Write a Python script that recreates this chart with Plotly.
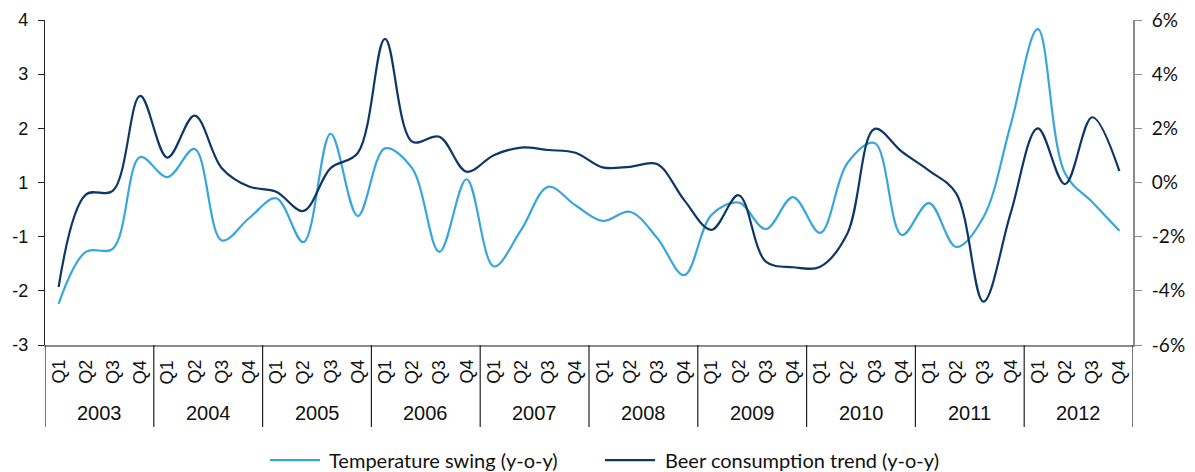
import plotly.graph_objects as go

years = ["2003", "2004", "2005", "2006", "2007", "2008", "2009", "2010", "2011", "2012"]
quarters = ["Q1", "Q2", "Q3", "Q4"]

# Temperature swing (left axis, real units; labels are rounded in the original)
temperature = [-1.74, -0.78, -0.72, 0.97, 0.60, 1.12, -0.57, -0.16, 0.21, -0.60,
               1.40, -0.12, 1.13, 0.76, -0.78, 0.56, -1.05, -0.38, 0.42, 0.08,
               -0.21, -0.04, -0.52, -1.21, -0.10, 0.13, -0.36, 0.23, -0.43, 0.86,
               1.23, -0.47, 0.12, -0.69, -0.14, 1.56, 3.33, 0.67, 0.14, -0.39]

# Beer consumption trend (right axis, %)
beer = [-3.86, -0.45, -0.30, 3.20, 0.92, 2.47, 0.53, -0.15, -0.34, -1.05,
        0.53, 1.09, 5.30, 1.51, 1.69, 0.40, 1.01, 1.29, 1.20, 1.10,
        0.56, 0.58, 0.68, -0.65, -1.75, -0.47, -2.92, -3.13, -3.11, -1.88,
        1.98, 1.14, 0.44, -0.40, -4.40, -1.14, 2.00, -0.06, 2.41, 0.42]

series_names = ["Temperature swing (y-o-y)", "Beer consumption trend (y-o-y)"]

left_tickvals = [-2.5, -1.5, -0.5, 0.5, 1.5, 2.5, 3.5]
left_ticktext = ["-3", "-2", "-1", "1", "2", "3", "4"]
right_tickvals = [-6, -4, -2, 0, 2, 4, 6]
right_ticktext = ["-6%", "-4%", "-2%", "0%", "2%", "4%", "6%"]

LIGHT = "#38A6DC"
DARK = "#0C3766"

n = len(years) * len(quarters)
xs = list(range(n))

fig = go.Figure()
fig.add_trace(go.Scatter(x=xs, y=temperature, mode="lines", name=series_names[0],
                         line=dict(color=LIGHT, width=2.2, shape="spline", smoothing=1.0)))
fig.add_trace(go.Scatter(x=xs, y=beer, mode="lines", name=series_names[1],
                         yaxis="y2",
                         line=dict(color=DARK, width=2.2, shape="spline", smoothing=1.0)))

annotations = []
for i in range(n):
    annotations.append(dict(x=i, y=-0.083, xref="x", yref="paper", text=quarters[i % 4],
                            textangle=-90, showarrow=False, xanchor="center", yanchor="middle",
                            font=dict(family="Liberation Sans", size=18, color="#111")))
for j, yr in enumerate(years):
    annotations.append(dict(x=j * 4 + 1.5, y=-0.209, xref="x", yref="paper", text=yr,
                            showarrow=False, xanchor="center", yanchor="middle",
                            font=dict(family="Liberation Sans", size=20, color="#111")))

shapes = []
for j in range(len(years) + 1):
    shapes.append(dict(type="line", xref="x", yref="paper", x0=j * 4 - 0.5, x1=j * 4 - 0.5,
                       y0=0, y1=-0.252, line=dict(color="#222", width=1.2)))

# manual legend
leg_y = -0.354
leg_items = [(0.2068, 0.2528, 0.2592, LIGHT, series_names[0]),
             (0.5147, 0.5607, 0.5680, DARK, series_names[1])]
for x0, x1, xt, col, name in leg_items:
    shapes.append(dict(type="line", xref="paper", yref="paper", x0=x0, x1=x1, y0=leg_y, y1=leg_y,
                       line=dict(color=col, width=2.2)))
    annotations.append(dict(x=xt, y=leg_y, xref="paper", yref="paper", text=name,
                            showarrow=False, xanchor="left", yanchor="middle",
                            font=dict(family="Lato", size=20, color="#111")))

# page body has an 8px margin; compensate so the plot area lands at x 45-1133, y 20-345
fig.update_layout(
    width=1187, height=464,
    margin=dict(l=37, r=62, t=12, b=127, autoexpand=False),
    plot_bgcolor="white", paper_bgcolor="white",
    showlegend=False,
    xaxis=dict(range=[-0.5, n - 0.5], showticklabels=False, showgrid=False, zeroline=False,
               showline=True, linecolor="#8c8c8c", linewidth=2, ticks="", automargin=False),
    yaxis=dict(range=[-2.5, 3.5], tickvals=left_tickvals, ticktext=left_ticktext,
               showgrid=False, zeroline=False, showline=True, linecolor="#222", linewidth=1.2,
               ticks="outside", ticklen=6, tickcolor="#222", automargin=False,
               ticklabelstandoff=6, ticklabeloverflow="allow",
               tickfont=dict(family="Liberation Sans", size=18, color="#111")),
    yaxis2=dict(range=[-6, 6], tickvals=right_tickvals, ticktext=right_ticktext,
                overlaying="y", side="right", showgrid=False, zeroline=False,
                showline=True, linecolor="#8c8c8c", linewidth=2, automargin=False,
                ticks="outside", ticklen=7, tickcolor="#8c8c8c", ticklabelstandoff=6,
                ticklabeloverflow="allow",
                tickfont=dict(family="Lato", size=19, color="#111")),
    annotations=annotations,
    shapes=shapes,
)

fig.write_html("out.html")
